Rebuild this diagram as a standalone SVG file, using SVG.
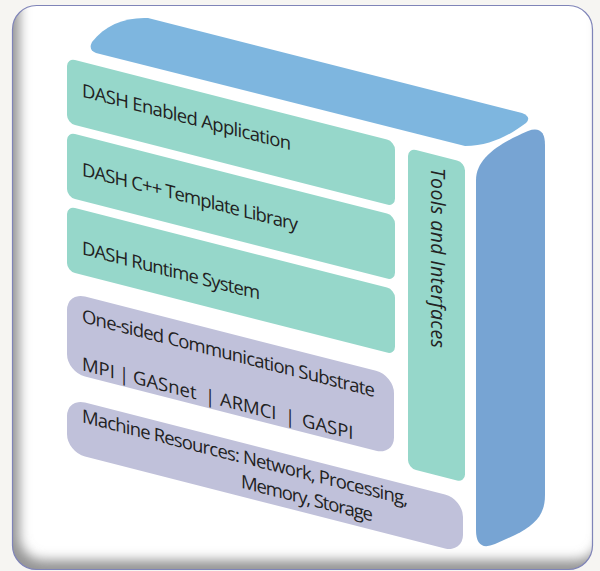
<svg xmlns="http://www.w3.org/2000/svg" width="600" height="571" viewBox="0 0 600 571">
  <defs>
    <style>
      .green { fill: #96d7ca; }
      .purple { fill: #c0c1da; }
      .lbl { font-family: "Open Sans", "Noto Sans", "DejaVu Sans", sans-serif; font-size: 18.5px; fill: #222222; }
      .tools { font-family: "Open Sans", "Noto Sans", "DejaVu Sans", sans-serif; font-size: 19.5px; font-style: italic; fill: #222222; }
    </style>
    <clipPath id="cardClip">
      <rect x="12.5" y="5.5" width="580" height="564" rx="24"/>
    </clipPath>
    <filter id="blur" x="-10%" y="-10%" width="120%" height="120%">
      <feGaussianBlur stdDeviation="6"/>
    </filter>
  </defs>

  <rect x="0" y="0" width="600" height="571" fill="#f6f5f2"/>

  <g id="card">
    <rect x="12.5" y="5.5" width="580" height="564" rx="24" fill="#ffffff"/>
    <g clip-path="url(#cardClip)">
      <path d="M -100,-100 H 700 V 700 H -100 Z M 36.5,-3.5 H 592.5 V 546 A 24 24 0 0 1 568.5,570 H 36.5 A 24 24 0 0 1 12.5,546 V -3.5 Z" transform="translate(7,-10)" fill-rule="evenodd" fill="#959595" filter="url(#blur)"/>
    </g>
    <rect x="12.5" y="5.5" width="580" height="564" rx="24" fill="none" stroke="#7f84b8" stroke-width="1.2"/>
  </g>

  <g id="top-slab">
    <path d="M 96,53 Q 88,50 92,42 C 105,25 125,17 148,18 L 522,113 Q 532,117 526,123 C 510,135 490,146 465,146 Z" fill="#7eb6df"/>
  </g>

  <g id="side-column">
    <path d="M 476,180 C 476,158 500,143 528,131 Q 545,125 545,145 L 545,495 C 545,515 535,525 515,535 L 495,544 Q 476,552 476,530 Z" fill="#77a4d3"/>
  </g>

  <g transform="matrix(1,0.255,0,1,0,-17.085)">
    <g id="layer-application">
      <rect class="green" x="67" y="58" width="328" height="65" rx="8"/>
      <text class="lbl" x="82" y="93" textLength="209" lengthAdjust="spacing">DASH Enabled Application</text>
    </g>
    <g id="layer-template-library">
      <rect class="green" x="67" y="132" width="328" height="65" rx="8"/>
      <text class="lbl" x="82" y="172" textLength="216" lengthAdjust="spacing">DASH C++ Template Library</text>
    </g>
    <g id="layer-runtime">
      <rect class="green" x="67" y="206" width="328" height="65" rx="8"/>
      <text class="lbl" x="82" y="250.5" textLength="178" lengthAdjust="spacing">DASH Runtime System</text>
    </g>
    <g id="layer-communication">
      <rect class="purple" x="67" y="292" width="327" height="80" rx="18"/>
      <text class="lbl" x="82" y="318.5" textLength="293" lengthAdjust="spacing">One-sided Communication Substrate</text>
      <text class="lbl" y="366.5"><tspan x="82">MPI</tspan><tspan x="119">|</tspan><tspan x="133">GASnet</tspan><tspan x="205">|</tspan><tspan x="220">ARMCI</tspan><tspan x="285">|</tspan><tspan x="302">GASPI</tspan></text>
    </g>
    <g id="layer-machine">
      <rect class="purple" x="67" y="398" width="396" height="54" rx="18"/>
      <text class="lbl" x="82" y="418.5" textLength="326" lengthAdjust="spacing">Machine Resources: Network, Processing,</text>
      <text class="lbl" x="241" y="443.5" textLength="132" lengthAdjust="spacing">Memory, Storage</text>
    </g>
    <g id="tools-column">
      <rect class="green" x="408" y="61" width="57" height="320" rx="8"/>
    </g>
  </g>
  <g id="tools-label">
    <text class="tools" transform="translate(431,168) rotate(90)" textLength="180" lengthAdjust="spacing">Tools and Interfaces</text>
  </g>
  <g id="connectors"/>
</svg>
